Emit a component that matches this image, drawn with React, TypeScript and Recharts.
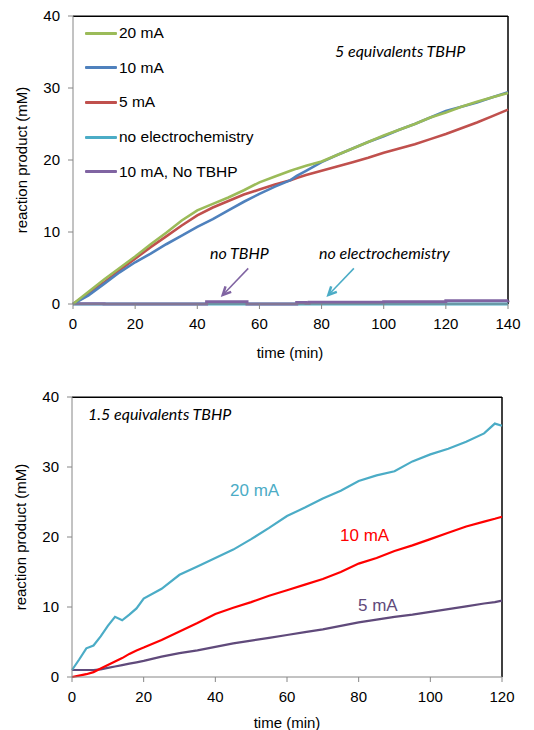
import React from "react";
import {Legend, Line, LineChart, ReferenceArea, ReferenceLine, XAxis, YAxis} from "recharts";

// ---- top panel: 5 equivalents TBHP ----
const topTime = [0, 5, 10, 15, 20, 25, 30, 35, 40, 45, 50, 55, 60, 65, 70, 72, 75, 80, 85, 90, 95, 100, 105, 110, 115, 120, 125, 130, 135, 140];
const top20mA = [0, 1.7, 3.4, 5.0, 6.6, 8.3, 9.9, 11.6, 13.0, 13.9, 14.8, 15.8, 16.9, 17.7, 18.5, 18.8, 19.2, 19.8, 20.7, 21.6, 22.5, 23.4, 24.2, 25.0, 25.9, 26.6, 27.4, 28.1, 28.7, 29.3];
const top10mA = [0, 1.2, 2.8, 4.4, 5.8, 7.0, 8.3, 9.5, 10.7, 11.8, 13.0, 14.2, 15.3, 16.3, 17.2, 17.8, 18.5, 19.7, 20.7, 21.6, 22.5, 23.3, 24.2, 25.0, 25.9, 26.8, 27.4, 28.0, 28.7, 29.4];
const top5mA = [0, 1.5, 3.0, 4.7, 6.3, 7.9, 9.4, 10.9, 12.3, 13.4, 14.3, 15.2, 15.9, 16.6, 17.2, 17.5, 17.9, 18.5, 19.1, 19.7, 20.3, 21.0, 21.6, 22.2, 22.9, 23.6, 24.4, 25.2, 26.1, 27.0];
const noElecTime = [0, 20, 40, 60, 80, 100, 120, 140];
const noElecVals = [0, 0, 0, 0, 0, 0, 0, 0];
const noTbhpTime = [0, 10, 42, 43, 55, 56, 72, 75, 76, 100, 120, 140];
const noTbhpVals = [0.05, 0, 0, 0.3, 0.3, 0, 0.2, 0.1, 0.25, 0.3, 0.45, 0.5];
const topXTicks = [0, 20, 40, 60, 80, 100, 120, 140];
const yTicks = [0, 10, 20, 30, 40];

// ---- bottom panel: 1.5 equivalents TBHP ----
const botTime = [0, 2, 4, 6, 8, 10, 12, 14, 16, 18, 20, 25, 30, 35, 40, 45, 50, 55, 60, 65, 70, 75, 80, 85, 90, 95, 100, 105, 110, 115, 118, 120];
const bot20mA = [1.0, 2.5, 4.1, 4.5, 5.8, 7.3, 8.6, 8.1, 8.9, 9.8, 11.2, 12.6, 14.6, 15.8, 17.0, 18.2, 19.7, 21.3, 23.0, 24.2, 25.5, 26.6, 28.0, 28.8, 29.4, 30.8, 31.8, 32.6, 33.6, 34.8, 36.2, 35.9];
const bot10mA = [0, 0.2, 0.4, 0.7, 1.2, 1.7, 2.2, 2.7, 3.3, 3.8, 4.2, 5.3, 6.5, 7.7, 9.0, 9.9, 10.7, 11.6, 12.4, 13.2, 14.0, 15.0, 16.2, 17.0, 18.0, 18.8, 19.7, 20.6, 21.5, 22.2, 22.6, 22.9];
const bot5mA = [1.0, 1.0, 1.0, 1.0, 1.1, 1.3, 1.5, 1.7, 1.9, 2.1, 2.3, 2.9, 3.4, 3.8, 4.3, 4.8, 5.2, 5.6, 6.0, 6.4, 6.8, 7.3, 7.8, 8.2, 8.6, 8.9, 9.3, 9.7, 10.1, 10.5, 10.7, 10.9];
const botXTicks = [0, 20, 40, 60, 80, 100, 120];

const legendItems = [
    {name: "20 mA", color: "#9BBB59"},
    {name: "10 mA", color: "#4F81BD"},
    {name: "5 mA", color: "#C0504D"},
    {name: "no electrochemistry", color: "#4BACC6"},
    {name: "10 mA, No TBHP", color: "#8064A2"},
];

const toRows = (t: number[], v: number[]) => t.map((x, i) => ({t: x, v: v[i]}));

const axisFont = {fontFamily: "'Liberation Sans', Arial, sans-serif", fontSize: 15, fill: "#000"};
const noteFont = {fontFamily: "Lato, sans-serif", fontSize: 16, fontStyle: "italic" as const, fill: "#000"};
const axisGrey = "#868686";

function Arrow(props: any) {
    const {x1, y1, x2, y2} = props;
    const color = props.color;
    const ang = Math.atan2(y2 - y1, x2 - x1);
    const len = 9;
    const a1 = ang + Math.PI - 0.45;
    const a2 = ang + Math.PI + 0.45;
    return (
        <g>
            <line x1={x1} y1={y1} x2={x2} y2={y2} stroke={color} strokeWidth={1.5}/>
            <polyline
                points={`${x2 + len * Math.cos(a1)},${y2 + len * Math.sin(a1)} ${x2},${y2} ${x2 + len * Math.cos(a2)},${y2 + len * Math.sin(a2)}`}
                fill="none" stroke={color} strokeWidth={2.5}/>
        </g>
    );
}

function TopLegend() {
    return (
        <div>
            {legendItems.map((it) => (
                <div key={it.name} style={{display: "flex", alignItems: "center", height: 34.6}}>
                    <div style={{width: 32, height: 3, background: it.color, borderRadius: 1}}/>
                    <span style={{marginLeft: 2, fontFamily: "'Liberation Sans', Arial, sans-serif", fontSize: 15.5, color: "#000"}}>{it.name}</span>
                </div>
            ))}
        </div>
    );
}

function TopChart() {
    return (
        <LineChart width={534} height={365} margin={{top: 16, right: 26, left: 13, bottom: 11}}>
            <XAxis type="number" dataKey="t" domain={[0, 140]} ticks={topXTicks} height={50}
                   stroke={axisGrey} tickSize={5} tickMargin={9} tick={axisFont} allowDuplicatedCategory={false}/>
            <YAxis type="number" domain={[0, 40]} ticks={yTicks} width={60}
                   stroke={axisGrey} tickSize={5} tickMargin={8} tick={axisFont}/>
            <ReferenceArea y1={39.86} y2={40} ifOverflow="extendDomain" fill="#000" fillOpacity={1} stroke="none"/>
            <ReferenceLine y={40} ifOverflow="extendDomain" stroke="#000" strokeWidth={1.2}/>
            <ReferenceLine x={140} ifOverflow="extendDomain" stroke="#000" strokeWidth={1.5}/>
            <Line data={toRows(noElecTime, noElecVals)} dataKey="v" stroke="#4BACC6" strokeWidth={3} dot={false} isAnimationActive={false}/>
            <Line data={toRows(noTbhpTime, noTbhpVals)} dataKey="v" stroke="#8064A2" strokeWidth={3} dot={false} isAnimationActive={false} type="stepAfter"/>
            <Line data={toRows(topTime, top5mA)} dataKey="v" stroke="#C0504D" strokeWidth={2.6} dot={false} isAnimationActive={false}/>
            <Line data={toRows(topTime, top10mA)} dataKey="v" stroke="#4F81BD" strokeWidth={2.6} dot={false} isAnimationActive={false}/>
            <Line data={toRows(topTime, top20mA)} dataKey="v" stroke="#9BBB59" strokeWidth={2.6} dot={false} isAnimationActive={false}/>
            <ReferenceLine segment={[{x: 56.4, y: 4.95}, {x: 48.2, y: 1.25}]} shape={(p: any) => <Arrow {...p} color="#8064A2"/>}/>
            <ReferenceLine segment={[{x: 90.4, y: 4.95}, {x: 82.2, y: 1.25}]} shape={(p: any) => <Arrow {...p} color="#4BACC6"/>}/>
            <Legend layout="vertical" align="center" verticalAlign="middle" content={() => <TopLegend/>}
                    wrapperStyle={{position: "absolute", left: 85, top: 16, width: 260, height: 173}}/>
            <text x={335} y={57} {...noteFont}>5 equivalents TBHP</text>
            <text x={210} y={259} {...noteFont}>no TBHP</text>
            <text x={319} y={259} {...noteFont}>no electrochemistry</text>
            <text x={21} y={160} transform="rotate(-90 21 160)" textAnchor="middle" dominantBaseline="central" {...axisFont}>reaction product (mM)</text>
            <text x={290} y={352} textAnchor="middle" dominantBaseline="central" {...axisFont}>time (min)</text>
        </LineChart>
    );
}

function BottomChart() {
    const rows = botTime.map((t, i) => ({t, a: bot20mA[i], b: bot10mA[i], c: bot5mA[i]}));
    return (
        <LineChart width={534} height={365} data={rows} margin={{top: 32, right: 32, left: 12, bottom: 8}}>
            <XAxis type="number" dataKey="t" domain={[0, 120]} ticks={botXTicks} height={45}
                   stroke={axisGrey} tickSize={5} tickMargin={9} tick={axisFont}/>
            <YAxis type="number" domain={[0, 40]} ticks={yTicks} width={60}
                   stroke={axisGrey} tickSize={5} tickMargin={8} tick={axisFont}/>
            <ReferenceArea y1={39.86} y2={40} ifOverflow="extendDomain" fill="#000" fillOpacity={1} stroke="none"/>
            <ReferenceLine y={40} ifOverflow="extendDomain" stroke="#000" strokeWidth={1.2}/>
            <ReferenceLine x={120} ifOverflow="extendDomain" stroke="#000" strokeWidth={1.5}/>
            <Line dataKey="c" stroke="#604A7B" strokeWidth={2.2} dot={false} isAnimationActive={false}/>
            <Line dataKey="b" stroke="#FF0000" strokeWidth={2.2} dot={false} isAnimationActive={false}/>
            <Line dataKey="a" stroke="#4BACC6" strokeWidth={2.2} dot={false} isAnimationActive={false}/>
            <text x={88} y={55} {...noteFont}>1.5 equivalents TBHP</text>
            <text x={230} y={131} {...axisFont} fontSize={17} fill="#4BACC6">20 mA</text>
            <text x={340} y={176} {...axisFont} fontSize={17} fill="#FF0000">10 mA</text>
            <text x={358} y={246} {...axisFont} fontSize={17} fill="#604A7B">5 mA</text>
            <text x={20} y={172} transform="rotate(-90 20 172)" textAnchor="middle" dominantBaseline="central" {...axisFont}>reaction product (mM)</text>
            <text x={287} y={357} textAnchor="middle" dominantBaseline="central" {...axisFont}>time (min)</text>
        </LineChart>
    );
}

export default function App() {
    return (
        <div style={{position: "absolute", left: 0, top: 0, width: 534, height: 730, background: "#fff"}}>
            <TopChart/>
            <BottomChart/>
        </div>
    );
}
